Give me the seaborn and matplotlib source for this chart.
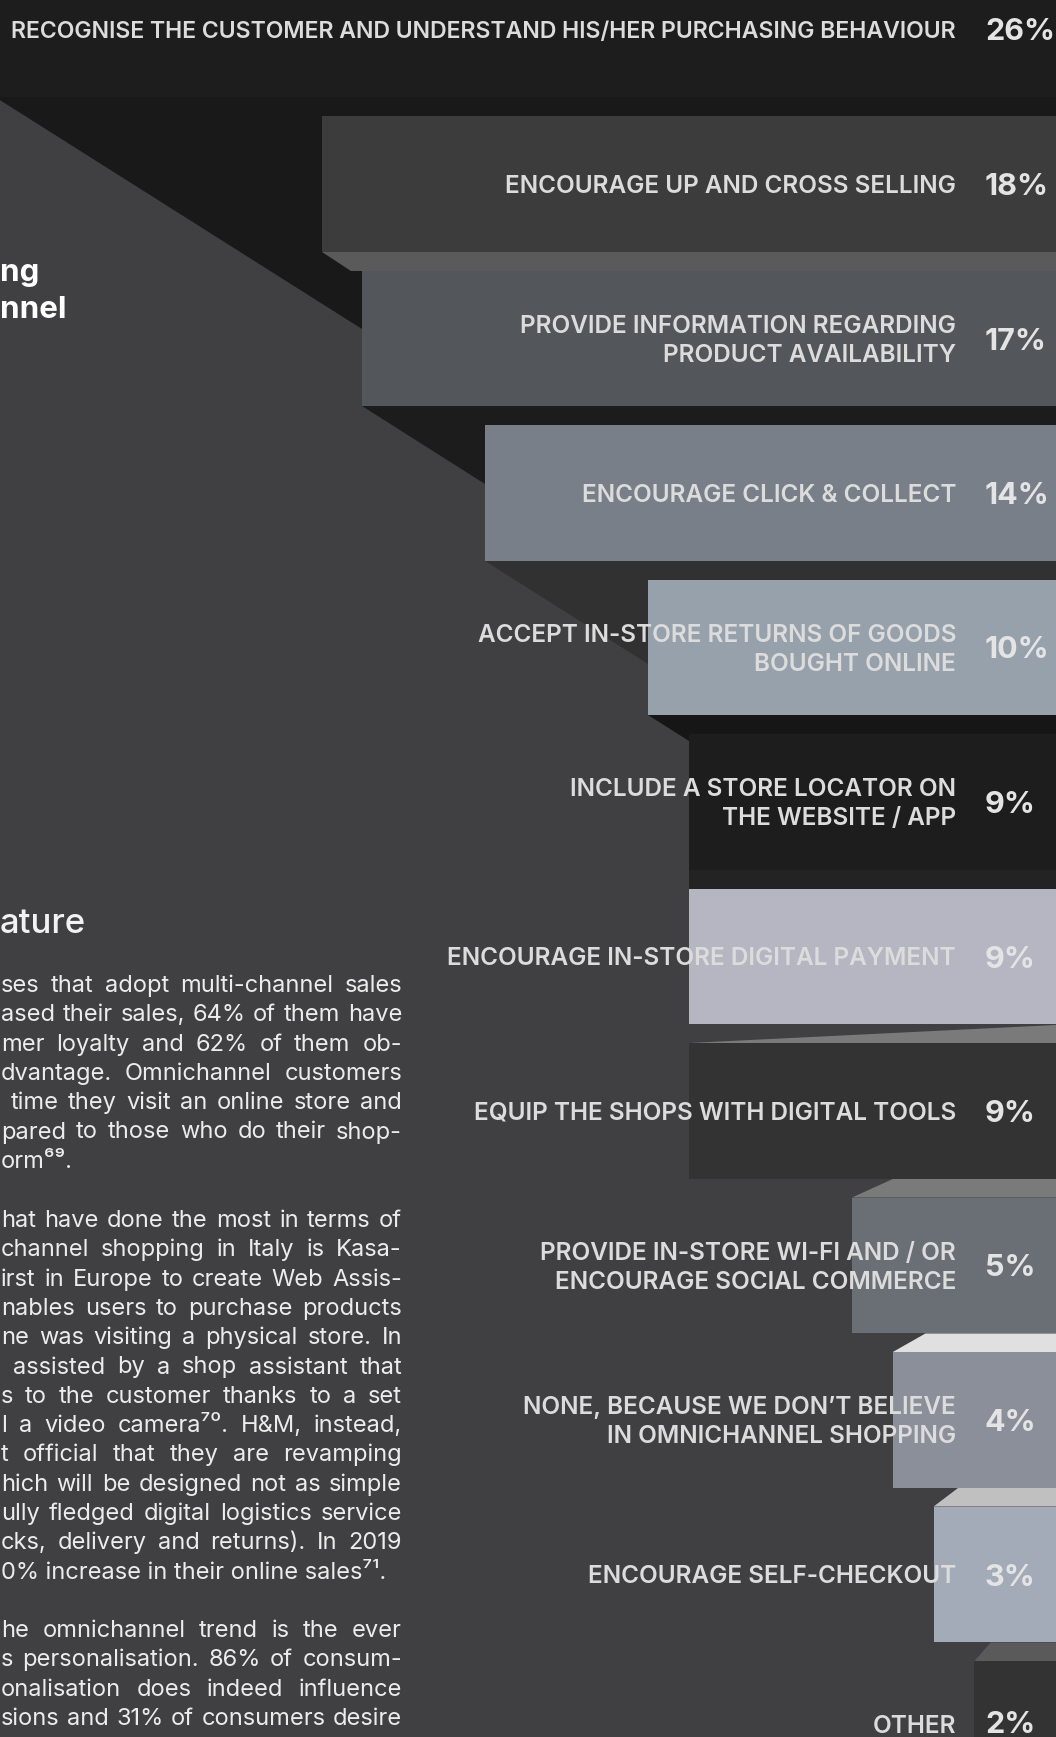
import matplotlib
matplotlib.use("Agg")
import matplotlib.pyplot as plt
import matplotlib.transforms as mtrans
from matplotlib.patches import Polygon
import numpy as np
import pandas as pd
import seaborn as sns

# ---------------- data ----------------
categories = [
    "RECOGNISE THE CUSTOMER AND UNDERSTAND HIS/HER PURCHASING BEHAVIOUR",
    "ENCOURAGE UP AND CROSS SELLING",
    "PROVIDE INFORMATION REGARDING\nPRODUCT AVAILABILITY",
    "ENCOURAGE CLICK & COLLECT",
    "ACCEPT IN-STORE RETURNS OF GOODS\nBOUGHT ONLINE",
    "INCLUDE A STORE LOCATOR ON\nTHE WEBSITE / APP",
    "ENCOURAGE IN-STORE DIGITAL PAYMENT",
    "EQUIP THE SHOPS WITH DIGITAL TOOLS",
    "PROVIDE IN-STORE WI-FI AND / OR\nENCOURAGE SOCIAL COMMERCE",
    "NONE, BECAUSE WE DON\u2019T BELIEVE\nIN OMNICHANNEL SHOPPING",
    "ENCOURAGE SELF-CHECKOUT",
    "OTHER",
]
values = [26, 18, 17, 14, 10, 9, 9, 9, 5, 4, 3, 2]
pct_labels = ["26%", "18%", "17%", "14%", "10%", "9%", "9%", "9%", "5%", "4%", "3%", "2%"]
bar_colors = ["#1d1d1e", "#3c3c3c", "#53575c", "#787f88", "#97a1ab", "#1d1d1d",
              "#b6b6c2", "#333334", "#6a6e75", "#8a8f9a", "#a4abb8", "#333333"]

heading_lines = ["ng", "nnel"]
section_title = "ature"
para1 = ["ses that adopt multi-channel sales",
         "ased their sales, 64% of them have",
         "mer loyalty and 62% of them ob-",
         "dvantage. Omnichannel customers",
         " time they visit an online store and",
         "pared to those who do their shop-",
         "orm\u2076\u2079."]
para2 = ["hat have done the most in terms of",
         "channel shopping in Italy is Kasa-",
         "irst in Europe to create Web Assis-",
         "nables users to purchase products",
         "ne was visiting a physical store. In",
         " assisted by a shop assistant that",
         "s to the customer thanks to a set",
         "l a video camera\u2077\u2070. H&M, instead,",
         "t official that they are revamping",
         "hich will be designed not as simple",
         "ully fledged digital logistics service",
         "cks, delivery and returns). In 2019",
         "0% increase in their online sales\u2077\u00b9."]
para3 = ["he omnichannel trend is the ever",
         "s personalisation. 86% of consum-",
         "onalisation does indeed influence",
         "sions and 31% of consumers desire"]

# ---------------- styling / layout ----------------
W, H = 1056, 1737
BG = "#404042"
PX = 40.8      # pixels per percentage point
ROW = 154.5    # pixels per category row
Y0 = 29.5      # pixel centre of first row
BAR_W = 0.88
SLOPE = 0.63

gap_styles = [("shadow", "#191919"), ("band", "#5a5a5a"), ("shadow", "#1c1c1c"),
              ("shadow", "#313131"), ("shadow", "#161616"), ("shadow", "#232323"),
              ("wedge", "#7a7a7a"), ("face", "#7a7a7a"), ("face", "#e0e0e0"),
              ("face", "#c0c0c0"), ("face", "#5a5a5a")]

sns.set_theme(style="white")
plt.rcParams["font.family"] = ["Inter", "DejaVu Sans"]

fig = plt.figure(figsize=(W / 100, H / 100), dpi=100, facecolor=BG)
ax = fig.add_axes([0, 0, 1, 1])
ax.set_facecolor(BG)

df = pd.DataFrame({"cat": categories, "val": values})
sns.barplot(data=df, x="val", y="cat", hue="cat", palette=bar_colors, orient="h",
            width=BAR_W, saturation=1, legend=False, linewidth=0, ax=ax, zorder=2)
ax.set_xlim(W / PX, 0)
ax.set_ylim((H - Y0) / ROW, -Y0 / ROW)
ax.axis("off")

PT = mtrans.Affine2D().scale(1 / W, -1 / H).translate(0, 1) + fig.transFigure
renderer = fig.canvas.get_renderer()


def to_data(px, py):
    return ((W - px) / PX, (py - Y0) / ROW)


n = len(values)
left = [W - v * PX for v in values]
top = [Y0 + i * ROW - BAR_W / 2 * ROW for i in range(n)]
bot = [Y0 + i * ROW + BAR_W / 2 * ROW for i in range(n)]
XR = W + 10

for i, (kind, col) in enumerate(gap_styles):
    xi, yi = left[i], bot[i]
    j = i + 1
    if kind == "shadow":
        poly = None
        for k in range(i + 1, n):
            if left[k] <= xi:
                break
            yl = yi + SLOPE * (left[k] - xi)
            if yl <= bot[k]:
                poly = [(xi, yi), (XR, yi), (XR, yl), (left[k], yl)]
                break
        if poly is None:
            poly = [(xi, yi), (XR, yi), (XR, top[j]), (xi, top[j])]
    elif kind == "band":
        poly = [(xi, yi), (XR, yi), (XR, top[j]), (xi + (top[j] - yi) / SLOPE, top[j])]
    elif kind == "wedge":
        poly = [(left[j], top[j]), (XR, yi), (XR, top[j])]
    else:
        off = 0.2 * (W - left[j])
        poly = [(left[j], top[j]), (left[j] + off, yi), (XR, yi), (XR, top[j])]
    ax.add_patch(Polygon([to_data(px, py) for px, py in poly], closed=True,
                         facecolor=col, edgecolor="none", zorder=1))

# ---------------- bar labels ----------------
LAB_FS = 17.5
PCT_FS = 22
LAB_X = 956
PCT_X = 985
LAB_LS = 29
LAB_MIN_X = 9
MAX_BASE = H - 4
for i, (cat, pct) in enumerate(zip(categories, pct_labels)):
    cy = Y0 + i * ROW
    lines = cat.split("\n")
    for li, line in enumerate(lines):
        t = ax.text(LAB_X, 0, line, transform=PT, ha="right", va="baseline",
                    fontsize=LAB_FS, fontweight="semibold", color="#dcdcdc", zorder=5)
        wpx = t.get_window_extent(renderer).width
        fs = LAB_FS
        if wpx > LAB_X - LAB_MIN_X:
            fs = LAB_FS * (LAB_X - LAB_MIN_X) / wpx
            t.set_fontsize(fs)
        em = fs / 72 * 100
        by = cy + (li - (len(lines) - 1) / 2) * LAB_LS + 0.36 * em
        t.set_y(min(by, MAX_BASE))
    em2 = PCT_FS / 72 * 100
    ax.text(PCT_X, min(cy + 0.36 * em2, MAX_BASE), pct, transform=PT, ha="left",
            va="baseline", fontsize=PCT_FS, fontweight="bold", color="#e4e4e4", zorder=5)

# ---------------- left-hand text ----------------
for li, line in enumerate(heading_lines):
    ax.text(0, 281 + li * 37, line, transform=PT, ha="left", va="baseline",
            fontsize=22.5, fontweight="bold", color="#ffffff", zorder=5)
ax.text(0, 933, section_title, transform=PT, ha="left", va="baseline",
        fontsize=25, fontweight="medium", color="#f2f2f2", zorder=5)

BODY_FS = 17
BODY_C = "#ececec"
LS = 29.3
_sp = ax.text(0, 0, "a a", transform=PT, fontsize=BODY_FS)
_aa = ax.text(0, 0, "aa", transform=PT, fontsize=BODY_FS)
SPACE_W = _sp.get_window_extent(renderer).width - _aa.get_window_extent(renderer).width
_sp.remove()
_aa.remove()


def justify(line, y, x0, x1):
    words = line.split(" ")
    ts = [ax.text(0, y, w, transform=PT, ha="left", va="baseline", fontsize=BODY_FS,
                  color=BODY_C, zorder=5) for w in words]
    ws = [t.get_window_extent(renderer).width if w else 0.0 for t, w in zip(ts, words)]
    ng = max(len(words) - 1, 1)
    gap = (x1 - x0 - sum(ws)) / ng
    if gap < 0.9 * SPACE_W:
        gap = 0.9 * SPACE_W
        x = x1 - sum(ws) - gap * ng
    else:
        x = x0
    for t, w in zip(ts, ws):
        t.set_x(x)
        x += w + gap


for para, y_start in ((para1, 984), (para2, 1219), (para3, 1629)):
    for li, line in enumerate(para):
        by = y_start + li * LS + 8
        last = (li == len(para) - 1) and para is not para3
        if last:
            ax.text(1, by, line, transform=PT, ha="left", va="baseline",
                    fontsize=BODY_FS, color=BODY_C, zorder=5)
        else:
            justify(line, by, 1, 402)

fig.savefig("out.png", dpi=100, facecolor=BG)
